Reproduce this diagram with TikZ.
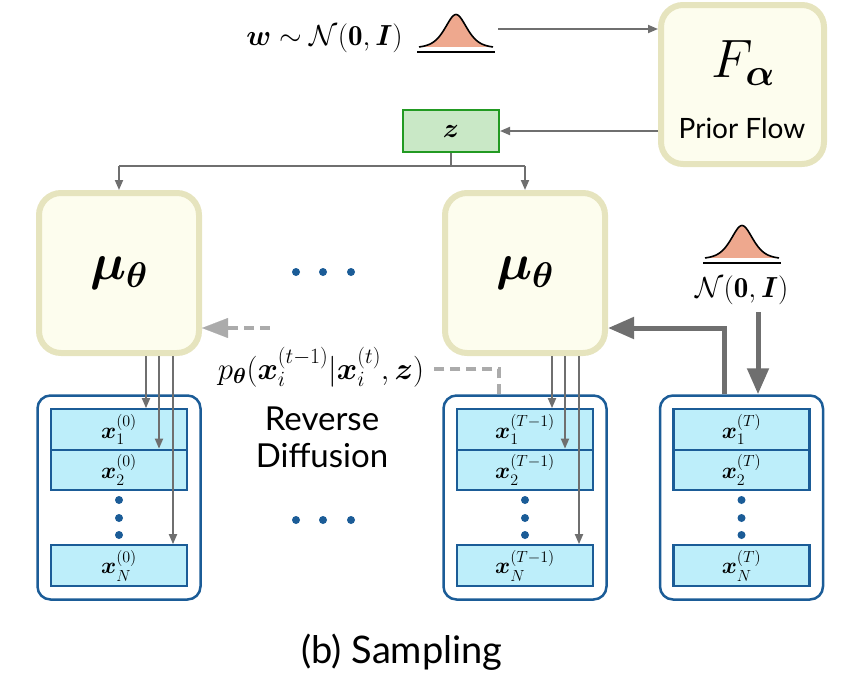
\RequirePackage{fix-cm}
\documentclass[tikz,border=0pt]{standalone}
\usepackage{amsmath,bm}
\usepackage{fontspec}
\setsansfont{Lato}
\usetikzlibrary{arrows.meta,calc}
\definecolor{mufill}{HTML}{FDFDEE}
\definecolor{muborder}{HTML}{E6E4BE}
\definecolor{blu}{HTML}{1B5C97}
\definecolor{cyanf}{HTML}{BDEEFA}
\definecolor{zfill}{HTML}{C9E8C6}
\definecolor{zborder}{HTML}{229A22}
\definecolor{arr}{HTML}{6F6F6F}
\definecolor{dashc}{HTML}{ABABAB}
\definecolor{bellf}{HTML}{EEA88E}
\tikzset{
  mubox/.style={draw=muborder, fill=mufill, line width=6pt, rounded corners=22pt, minimum width=160pt, minimum height=160pt, inner sep=0pt},
  container/.style={draw=blu, line width=2.5pt, rounded corners=13pt, minimum width=163pt, minimum height=204pt, inner sep=0pt},
  cell/.style={draw=blu, fill=cyanf, line width=2.2pt, minimum width=136pt, minimum height=40.5pt, inner sep=0pt, font=\fontsize{23}{25}\selectfont},
  dotb/.style={circle, fill=blu, minimum size=8pt, inner sep=0pt},
  thinarr/.style={draw=arr, line width=1.8pt, -{Triangle[length=10pt,width=8pt]}},
  thinline/.style={draw=arr, line width=1.8pt},
  thickarr/.style={draw=arr, line width=5pt, -{Triangle[length=26pt,width=21pt]}},
  dashline/.style={draw=dashc, line width=4pt, dash pattern=on 10pt off 6pt},
  bigmath/.style={font=\fontsize{51}{56}\selectfont},
  labmath/.style={font=\fontsize{29}{32}\selectfont},
}
\newcommand{\bellshape}[3]{% center x, base y, half width
  \fill[bellf] plot[domain=-#3:#3,samples=81,smooth] ({#1+\x},{#2-35*(0.4*exp(-(\x/16)^2)+0.6/(1+(\x/13.5)^2))}) -- cycle;
  \draw[black,line width=1.6pt] plot[domain=-#3:#3,samples=81,smooth] ({#1+\x},{#2-35*(0.4*exp(-(\x/16)^2)+0.6/(1+(\x/13.5)^2))});
  \draw[black,line width=2.6pt] ({#1-#3-2},{#2+2.5}) -- ({#1+#3+2},{#2+2.5});
}
\begin{document}
\begin{tikzpicture}[x=1pt,y=-1pt]
\useasboundingbox (0,0) rectangle (842,686);

% prior flow
\node[mubox, minimum width=163pt, minimum height=159pt] (prior) at (742.5,84.5) {};
\node[font=\fontsize{54}{60}\selectfont] (Fa) at (743,63) {$F_{\bm{\alpha}}$};
\node[font=\sffamily\fontsize{28}{32}\selectfont] (pf) at (742,128) {Prior Flow};

% top gaussian
\node[labmath] (wlab) at (324.5,38) {$\bm{w}\sim\mathcal{N}(\mathbf{0},\bm{I})$};
\bellshape{456}{49.5}{37}
\coordinate (b1e) at (498,29);
\draw[thinarr] (b1e) -- (b1e -| prior.west);

% z
\node[draw=zborder, fill=zfill, line width=2pt, minimum width=96pt, minimum height=42pt, inner sep=0pt, font=\fontsize{27}{30}\selectfont] (z) at (451,131) {$\bm{z}$};
\draw[thinarr] (z.east -| prior.west) -- (z.east);

% mu boxes
\node[mubox] (mu1) at (119,273) {};
\node[bigmath] (mul1) at (mu1.center) {$\bm{\mu}_{\bm{\theta}}$};
\node[mubox] (mu2) at (525,273) {};
\node[bigmath] (mul2) at (mu2.center) {$\bm{\mu}_{\bm{\theta}}$};

\draw[thinline] (z.south) -- ++(0,13) coordinate (zj);
\draw[thinline] (zj -| mu1.north) -- (zj -| mu2.north);
\draw[thinarr] (zj -| mu1.north) -- (mu1.north);
\draw[thinarr] (zj -| mu2.north) -- (mu2.north);

% middle dots
\foreach \xx [count=\i] in {296,323,351}{
  \node[dotb] (dt\i) at (\xx,272) {};
  \node[dotb] (db\i) at (\xx,520) {};
}

% stacks
\foreach \nm/\cx/\supx in {A/119/0, B/525/T-1, C/741.5/T}{
  \node[container] (cont\nm) at (\cx,497.5) {};
  \node[cell] (\nm1) at (\cx,429.5) {$\bm{x}_1^{(\supx)}$};
  \node[cell] (\nm2) at (\cx,470) {$\bm{x}_2^{(\supx)}$};
  \node[cell] (\nm3) at (\cx,565.5) {$\bm{x}_N^{(\supx)}$};
  \node[dotb] (\nm d1) at (\cx,500) {};
  \node[dotb] (\nm d2) at (\cx,518) {};
  \node[dotb] (\nm d3) at (\cx,535) {};
}

% arrows mu -> cells
\foreach \m/\s in {mu1/A, mu2/B}{
  \coordinate (\m a) at ($(\m.south)+(27,0)$);
  \coordinate (\m b) at ($(\m.south)+(40,0)$);
  \coordinate (\m c) at ($(\m.south)+(54,0)$);
  \draw[thinarr] (\m a) -- (\m a |- \s1.north);
  \draw[thinarr] (\m b) -- (\m b |- \s2.north);
  \draw[thinarr] (\m c) -- (\m c |- \s3.north);
}

% reverse diffusion label
\node[font=\sffamily\fontsize{33}{37}\selectfont, align=center] (rd) at (322,437) {Reverse\\Diffusion};

% p_theta label and dashed arrow
\node[font=\fontsize{31}{34}\selectfont] (plab) at (321,367) {$p_{\bm{\theta}}(\bm{x}_i^{(t-1)}|\bm{x}_i^{(t)},\bm{z})$};
\draw[dashline] ($(mu1.east)+(68,55)$) -- ($(mu1.east)+(22,55)$);
\draw[dashc, -{Triangle[length=26pt,width=20pt]}, line width=0.1pt] ($(mu1.east)+(26,55)$) -- ($(mu1.east)+(0,55)$);
\draw[dashline] ($(contB.north)+(-26,0)$) |- ($(plab.east)+(4,2)$);

% right gaussian
\bellshape{742}{260.5}{37}
\node[labmath] (nlab) at (742,290) {$\mathcal{N}(\mathbf{0},\bm{I})$};
\coordinate (d0) at (758,312);
\draw[thickarr] (d0) -- (d0 |- contC.north);
\coordinate (tA) at ($(contC.north)+(-17,0)$);
\draw[thickarr] (tA) |- ($(mu2.east)+(0,55)$);

% caption
\node[font=\sffamily\fontsize{38}{42}\selectfont] (cap) at (402,652) {(b) Sampling};
\end{tikzpicture}
\end{document}
